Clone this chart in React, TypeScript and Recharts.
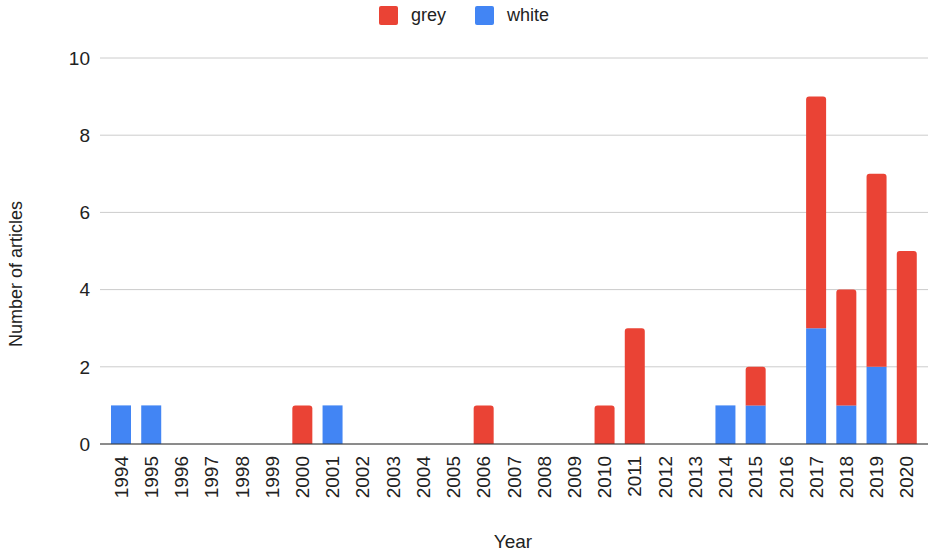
import { BarChart, Bar, XAxis, YAxis, CartesianGrid, Legend, Label } from "recharts";

const years = [
  "1994", "1995", "1996", "1997", "1998", "1999", "2000", "2001", "2002",
  "2003", "2004", "2005", "2006", "2007", "2008", "2009", "2010", "2011",
  "2012", "2013", "2014", "2015", "2016", "2017", "2018", "2019", "2020",
];
const white = [1, 1, 0, 0, 0, 0, 0, 1, 0, 0, 0, 0, 0, 0, 0, 0, 0, 0, 0, 0, 1, 1, 0, 3, 1, 2, 0];
const grey = [0, 0, 0, 0, 0, 0, 1, 0, 0, 0, 0, 0, 1, 0, 0, 0, 1, 3, 0, 0, 0, 1, 0, 6, 3, 5, 5];
const yTicks = [0, 2, 4, 6, 8, 10];

const data = years.map((year, i) => ({ year, white: white[i], grey: grey[i] }));

const RED = "#ea4335";
const BLUE = "#4285f4";
const FONT = "Arial, 'Liberation Sans', sans-serif";
const TEXT = "#222";
const FS = 19;

const legendItems = [
  { name: "grey", color: RED },
  { name: "white", color: BLUE },
];

function ChartLegend() {
  return (
    <div
      style={{
        display: "flex",
        justifyContent: "center",
        alignItems: "center",
        height: 30,
        fontFamily: FONT,
        fontSize: 18,
        color: TEXT,
      }}
    >
      {legendItems.map((item, i) => (
        <div
          key={item.name}
          style={{ display: "flex", alignItems: "center", marginRight: i < legendItems.length - 1 ? 29 : 0 }}
        >
          <span
            style={{
              display: "inline-block",
              width: 19,
              height: 19,
              borderRadius: 2,
              background: item.color,
              marginRight: 13,
            }}
          />
          <span>{item.name}</span>
        </div>
      ))}
    </div>
  );
}

function YearTick({ x, y, payload }: any) {
  return (
    <text
      x={x}
      y={y}
      transform={`rotate(-90 ${x} ${y})`}
      textAnchor="end"
      dominantBaseline="central"
      fill={TEXT}
      fontSize={FS}
      fontFamily={FONT}
    >
      {payload.value}
    </text>
  );
}

export default function App() {
  return (
    <div style={{ position: "absolute", left: 0, top: 0, background: "#fff" }}>
      <BarChart
        width={928}
        height={554}
        data={data}
        margin={{ top: 28, right: 0, left: 40, bottom: 0 }}
        barSize={20}
      >
        <Legend
          verticalAlign="top"
          wrapperStyle={{ top: 0, left: 0, width: 928 }}
          content={<ChartLegend />}
        />
        <CartesianGrid vertical={false} stroke="#cccccc" />
        <XAxis
          dataKey="year"
          interval={0}
          height={110}
          padding={{ left: 6, right: 6 }}
          axisLine={{ stroke: "#333" }}
          tickLine={false}
          tickMargin={6}
          tick={<YearTick />}
        >
          <Label
            content={() => (
              <text x={513} y={541} textAnchor="middle" dominantBaseline="central" fill={TEXT} fontSize={FS} fontFamily={FONT}>
                Year
              </text>
            )}
          />
        </XAxis>
        <YAxis
          width={60}
          domain={[0, 10]}
          ticks={yTicks}
          axisLine={false}
          tickLine={false}
          tickMargin={4}
          tick={{ fill: TEXT, fontSize: FS, fontFamily: FONT }}
        >
          <Label
            content={() => (
              <text
                x={16}
                y={274}
                transform="rotate(-90 16 274)"
                textAnchor="middle"
                dominantBaseline="central"
                fill={TEXT}
                fontSize={18}
                fontFamily={FONT}
              >
                Number of articles
              </text>
            )}
          />
        </YAxis>
        <Bar dataKey="white" stackId="a" fill={BLUE} isAnimationActive={false} />
        <Bar dataKey="grey" stackId="a" fill={RED} radius={[3, 3, 0, 0]} isAnimationActive={false} />
      </BarChart>
    </div>
  );
}
